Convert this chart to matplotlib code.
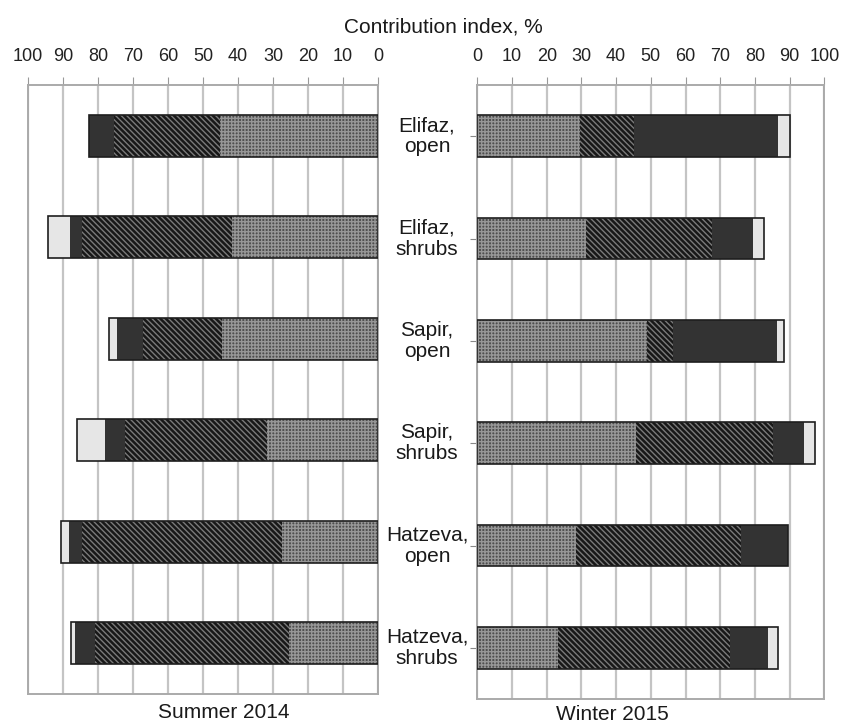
import matplotlib.pyplot as plt
import numpy as np

plt.rcParams['font.family'] = ['Liberation Sans', 'DejaVu Sans']
plt.rcParams['hatch.linewidth'] = 1.0

# sites (top to bottom)
sites = ['Elifaz,\nopen', 'Elifaz,\nshrubs', 'Sapir,\nopen',
         'Sapir,\nshrubs', 'Hatzeva,\nopen', 'Hatzeva,\nshrubs']

# contribution index, % (stacked from 0 outwards)
summer_grey = [45.2, 41.7, 44.5, 31.6, 27.4, 25.5]
summer_hatch = [30.2, 43.0, 22.6, 40.6, 57.3, 55.3]
summer_dark = [7.2, 3.4, 7.6, 5.7, 3.7, 5.7]
summer_light = [0.0, 6.2, 2.2, 8.1, 2.3, 1.3]

winter_grey = [29.6, 31.2, 48.8, 45.6, 28.4, 23.3]
winter_hatch = [15.6, 36.5, 7.5, 39.5, 47.6, 49.5]
winter_dark = [41.5, 11.7, 30.0, 9.1, 13.5, 10.9]
winter_light = [3.4, 3.3, 2.2, 3.1, 0.0, 3.0]

ticks = np.arange(0, 101, 10)

# segment styles: face colour, hatch, hatch colour
styles = [
    ('#4e4e4e', '+++++', '#969696'),
    ('#181818', '\\\\\\\\\\\\', '#7a7a7a'),
    ('#333333', None, '#333333'),
    ('#e6e6e6', None, '#e6e6e6'),
]

fig = plt.figure(figsize=(8.47, 7.24), dpi=100)
W, H = 847, 724
ax1 = fig.add_axes([28 / W, (H - 694) / H, 350 / W, 609 / H])
ax2 = fig.add_axes([477.3 / W, (H - 699) / H, 347 / W, 614 / H])

ypos = np.arange(len(sites))


def draw(ax, series):
    left = np.zeros(len(sites))
    for vals, (fc, hatch, hc) in zip(series, styles):
        vals = np.array(vals)
        ax.barh(ypos, vals, left=left, height=0.41, color=fc,
                hatch=hatch, edgecolor=hc, linewidth=0, zorder=2)
        left = left + vals
    ax.barh(ypos, left, height=0.41, fill=False, edgecolor='#1e1e1e',
            linewidth=1.2, zorder=3)
    ax.set_xlim(0, 100)
    ax.set_ylim(len(sites) - 0.5, -0.5)
    ax.set_xticks(ticks)
    ax.xaxis.set_ticks_position('top')
    ax.tick_params(axis='x', length=6, color='#999999', pad=8.5,
                   labelsize=13, labelcolor='#222222')
    ax.grid(axis='x', color='#c4c4c4', linewidth=1.6, zorder=0)
    for s in ax.spines.values():
        s.set_color('#aaaaaa')
        s.set_linewidth(1.4)


draw(ax1, [summer_grey, summer_hatch, summer_dark, summer_light])
draw(ax2, [winter_grey, winter_hatch, winter_dark, winter_light])

ax1.invert_xaxis()
ax1.set_yticks([])
ax2.set_yticks(ypos)
ax2.set_yticklabels([])
ax2.tick_params(axis='y', length=5, color='#888888')

for y, lab in zip(ypos, sites):
    ax2.text(-0.145, y, lab, transform=ax2.get_yaxis_transform(),
             ha='center', va='center', fontsize=15, color='#1a1a1a',
             linespacing=1.15)

fig.text(443 / W, 1 - 27 / H, 'Contribution index, %', ha='center',
         va='center', fontsize=15, color='#1a1a1a')
fig.text(224 / W, 1 - 712 / H, 'Summer 2014', ha='center', va='center',
         fontsize=15, color='#1a1a1a')
fig.text(612 / W, 1 - 715 / H, 'Winter 2015', ha='center', va='center',
         fontsize=15, color='#1a1a1a')

fig.savefig('out.png', dpi=100)
